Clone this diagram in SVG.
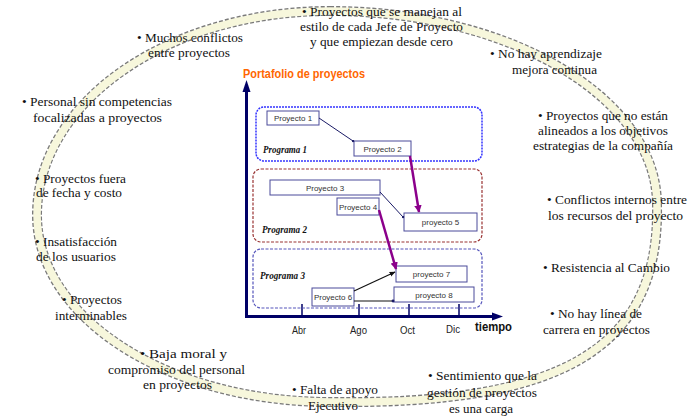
<svg xmlns="http://www.w3.org/2000/svg" width="698" height="420" viewBox="0 0 698 420">
<defs>
<style>
.t{font-family:"Liberation Serif","DejaVu Serif","Times New Roman",serif;font-size:12px;fill:#111}
.bx{fill:#fff;stroke:#4a4a9a;stroke-width:1}
.bl{font-family:"Liberation Sans",Arial,sans-serif;font-size:8px;fill:#333;text-anchor:middle}
.pg{font-family:"Liberation Serif","DejaVu Serif","Times New Roman",serif;font-size:10px;font-weight:bold;font-style:italic;fill:#111}
.mo{font-family:"Liberation Sans",Arial,sans-serif;font-size:10px;fill:#222}
.ax{stroke:#000066;fill:none}
.thin{stroke:#1a1a66;stroke-width:1;fill:none}
.pur{stroke:#8b008b;stroke-width:2.5;fill:none}
.blk{stroke:#111;stroke-width:1.2;fill:none}
</style>
<marker id="ap" viewBox="0 0 10 10" refX="9" refY="5" markerWidth="3" markerHeight="3" orient="auto"><path d="M0,0L10,5L0,10z" fill="#8b008b"/></marker>
<marker id="ak" viewBox="0 0 10 10" refX="9" refY="5" markerWidth="5" markerHeight="5" orient="auto"><path d="M0,1L10,5L0,9z" fill="#111"/></marker>
<marker id="dt" viewBox="0 0 10 10" refX="5" refY="5" markerWidth="3" markerHeight="3"><circle cx="5" cy="5" r="4" fill="#1a1a66"/></marker>
</defs>
<rect width="698" height="420" fill="#fff"/>

<g id="ring">
<path d="M330,11 C510,11 657,98 657,205 C660,350 560,405 330,402 C168,402 37,318 37,215 C37,102 168,11 330,11 Z" fill="none" stroke="#7a7a7a" stroke-width="10" stroke-dasharray="4 2"/>
<path d="M330,11 C510,11 657,98 657,205 C660,350 560,405 330,402 C168,402 37,318 37,215 C37,102 168,11 330,11 Z" fill="none" stroke="#f7f7dc" stroke-width="7.5"/>
</g>

<g id="title"><text x="243" y="78" font-family="Liberation Sans,Arial,sans-serif" font-size="13" font-weight="bold" fill="#ff6600" textLength="122" lengthAdjust="spacingAndGlyphs">Portafolio de proyectos</text></g>

<g id="axes">
<line class="ax" x1="246.5" y1="318" x2="246.5" y2="90" stroke-width="3"/>
<polygon points="246.5,80 242.5,92 250.5,92" fill="#000066"/>
<line class="ax" x1="245" y1="316.5" x2="494" y2="316.5" stroke-width="3"/>
<polygon points="503,316.5 492,312.5 492,320.5" fill="#000066"/>
<line class="ax" x1="302" y1="304" x2="302" y2="316" stroke-width="1.5"/>
<line class="ax" x1="359" y1="304" x2="359" y2="316" stroke-width="1.5"/>
<line class="ax" x1="409" y1="304" x2="409" y2="316" stroke-width="1.5"/>
<line class="ax" x1="459" y1="304" x2="459" y2="316" stroke-width="1.5"/>
<text class="mo" x="292" y="334" textLength="14" lengthAdjust="spacingAndGlyphs">Abr</text>
<text class="mo" x="350" y="334" textLength="17" lengthAdjust="spacingAndGlyphs">Ago</text>
<text class="mo" x="400" y="334" textLength="15" lengthAdjust="spacingAndGlyphs">Oct</text>
<text class="mo" x="446" y="333" textLength="14" lengthAdjust="spacingAndGlyphs">Dic</text>
<text x="475" y="331" font-family="Liberation Sans,Arial,sans-serif" font-size="12" font-weight="bold" fill="#111" textLength="37" lengthAdjust="spacingAndGlyphs">tiempo</text>
</g>

<g id="programa1">
<rect x="256" y="107" width="226" height="54" rx="8" fill="none" stroke="#3333ff" stroke-width="1.5" stroke-dasharray="2 1"/>
<text class="pg" x="263" y="153" textLength="44" lengthAdjust="spacingAndGlyphs">Programa 1</text>
</g>
<g id="programa2">
<rect x="253" y="169" width="229" height="73" rx="8" fill="none" stroke="#993333" stroke-width="1.2" stroke-dasharray="3 1.5"/>
<text class="pg" x="262" y="233" textLength="45" lengthAdjust="spacingAndGlyphs">Programa 2</text>
</g>
<g id="programa3">
<rect x="253" y="249" width="229" height="59" rx="8" fill="none" stroke="#5555bb" stroke-width="1.2" stroke-dasharray="3 1.5"/>
<text class="pg" x="260" y="279" textLength="45" lengthAdjust="spacingAndGlyphs">Programa 3</text>
</g>

<g id="proyecto1"><rect class="bx" x="267" y="111" width="52" height="14"/><text class="bl" x="293" y="121">Proyecto 1</text></g>
<g id="proyecto2"><rect class="bx" x="354" y="141" width="57" height="15"/><text class="bl" x="382.5" y="151.5">Proyecto 2</text></g>
<g id="proyecto3"><rect class="bx" x="270" y="180" width="110" height="15"/><text class="bl" x="325" y="190.5">Proyecto 3</text></g>
<g id="proyecto4"><rect class="bx" x="337" y="198" width="42" height="17"/><text class="bl" x="358" y="209.5">Proyecto 4</text></g>
<g id="proyecto5"><rect class="bx" x="404" y="213" width="73" height="18"/><text class="bl" x="440.5" y="225">proyecto 5</text></g>
<g id="proyecto6"><rect class="bx" x="312" y="288" width="42" height="18"/><text class="bl" x="333" y="300">Proyecto 6</text></g>
<g id="proyecto7"><rect class="bx" x="396" y="266" width="71" height="16"/><text class="bl" x="431.5" y="277">proyecto 7</text></g>
<g id="proyecto8"><rect class="bx" x="394" y="287" width="80" height="15"/><text class="bl" x="434" y="297.5">proyecto 8</text></g>

<g id="connectors">
<line class="thin" x1="319" y1="118" x2="353" y2="141" marker-end="url(#dt)"/>
<line class="thin" x1="380" y1="192" x2="403" y2="217" marker-end="url(#dt)"/>
<line class="pur" x1="410" y1="156" x2="419" y2="212" marker-end="url(#ap)"/>
<line class="pur" x1="379" y1="210" x2="396" y2="269" marker-end="url(#ap)"/>
<line class="blk" x1="354" y1="291" x2="395" y2="272" marker-end="url(#ak)"/>
<line class="blk" x1="354" y1="301" x2="393" y2="301" marker-end="url(#dt)"/>
</g>

<g id="issue-muchos"><text class="t" x="137" y="42" textLength="106" lengthAdjust="spacingAndGlyphs">• Muchos conflictos</text><text class="t" x="148" y="57" textLength="82" lengthAdjust="spacingAndGlyphs">entre proyectos</text></g>
<g id="issue-personal"><text class="t" x="22" y="106" textLength="150" lengthAdjust="spacingAndGlyphs">• Personal sin competencias</text><text class="t" x="33" y="122" textLength="129" lengthAdjust="spacingAndGlyphs">focalizadas a  proyectos</text></g>
<g id="issue-estilo"><text class="t" x="302" y="16" textLength="160" lengthAdjust="spacingAndGlyphs">• Proyectos que se manejan al</text><text class="t" x="300" y="31" textLength="163" lengthAdjust="spacingAndGlyphs">estilo de cada Jefe de Proyecto</text><text class="t" x="310" y="46" textLength="143" lengthAdjust="spacingAndGlyphs">y que empiezan desde cero</text></g>
<g id="issue-aprendizaje"><text class="t" x="490" y="58" textLength="112" lengthAdjust="spacingAndGlyphs">• No hay aprendizaje</text><text class="t" x="512" y="74" textLength="85" lengthAdjust="spacingAndGlyphs">mejora continua</text></g>
<g id="issue-alineados"><text class="t" x="538" y="120" textLength="130" lengthAdjust="spacingAndGlyphs">• Proyectos que no están</text><text class="t" x="538" y="135" textLength="130" lengthAdjust="spacingAndGlyphs">alineados a los objetivos</text><text class="t" x="533" y="150" textLength="140" lengthAdjust="spacingAndGlyphs">estrategias de la compañía</text></g>
<g id="issue-conflictos"><text class="t" x="547" y="204" textLength="140" lengthAdjust="spacingAndGlyphs">• Conflictos internos entre</text><text class="t" x="548" y="220" textLength="135" lengthAdjust="spacingAndGlyphs">los recursos del proyecto</text></g>
<g id="issue-resistencia"><text class="t" x="543" y="272" textLength="127" lengthAdjust="spacingAndGlyphs">• Resistencia al Cambio</text></g>
<g id="issue-carrera"><text class="t" x="550" y="318" textLength="92" lengthAdjust="spacingAndGlyphs">• No hay línea de</text><text class="t" x="543" y="334" textLength="107" lengthAdjust="spacingAndGlyphs">carrera en proyectos</text></g>
<g id="issue-sentimiento"><text class="t" x="428" y="380" textLength="109" lengthAdjust="spacingAndGlyphs">• Sentimiento que la</text><text class="t" x="427" y="397" textLength="110" lengthAdjust="spacingAndGlyphs">gestión de proyectos</text><text class="t" x="449" y="413" textLength="64" lengthAdjust="spacingAndGlyphs">es una carga</text></g>
<g id="issue-apoyo"><text class="t" x="292" y="394" textLength="86" lengthAdjust="spacingAndGlyphs">• Falta de apoyo</text><text class="t" x="308" y="410" textLength="50" lengthAdjust="spacingAndGlyphs">Ejecutivo</text></g>
<g id="issue-moral"><text class="t" x="140" y="358" textLength="87" lengthAdjust="spacingAndGlyphs">• Baja moral y</text><text class="t" x="108" y="374" textLength="137" lengthAdjust="spacingAndGlyphs">compromiso del personal</text><text class="t" x="143" y="389" textLength="69" lengthAdjust="spacingAndGlyphs">en proyectos</text></g>
<g id="issue-fecha"><text class="t" x="35" y="183" textLength="91" lengthAdjust="spacingAndGlyphs">• Proyectos fuera</text><text class="t" x="36" y="197" textLength="86" lengthAdjust="spacingAndGlyphs">de fecha y costo</text></g>
<g id="issue-usuarios"><text class="t" x="35" y="246" textLength="82" lengthAdjust="spacingAndGlyphs">• Insatisfacción</text><text class="t" x="36" y="261" textLength="80" lengthAdjust="spacingAndGlyphs">de los usuarios</text></g>
<g id="issue-interminables"><text class="t" x="62" y="304" textLength="60" lengthAdjust="spacingAndGlyphs">• Proyectos</text><text class="t" x="55" y="320" textLength="72" lengthAdjust="spacingAndGlyphs">interminables</text></g>
</svg>
